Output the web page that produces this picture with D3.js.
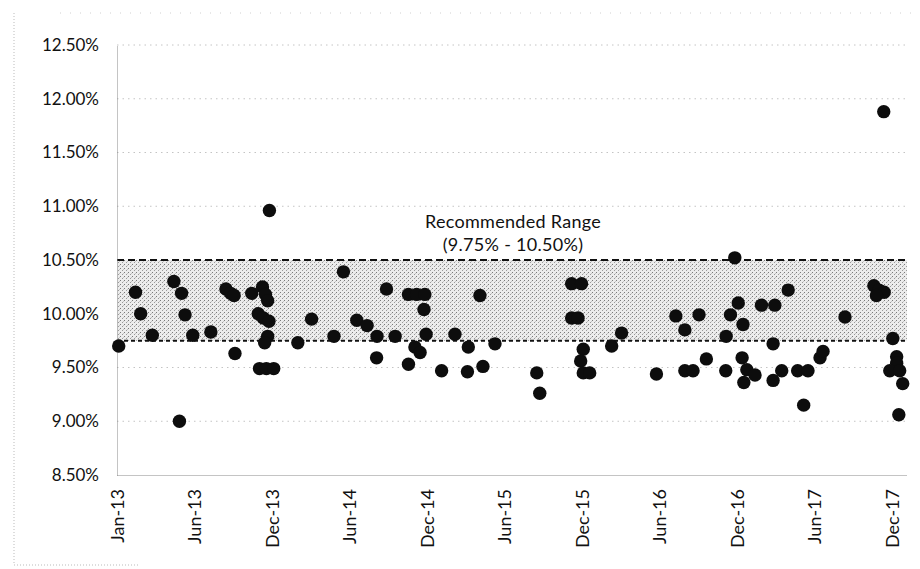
<!DOCTYPE html>
<html><head><meta charset="utf-8">
<script src="https://cdn.jsdelivr.net/npm/d3@7"></script>
<style>body{margin:0;background:#fff}svg text{font-family:Lato,"Open Sans",sans-serif;fill:#111}</style>
</head><body><svg id="c" width="920" height="569"></svg>
<script>
const dates = ["2013-01-05","2013-02-13","2013-02-25","2013-03-24","2013-05-13","2013-05-26","2013-05-31","2013-06-08","2013-06-26","2013-08-07",
"2013-09-11","2013-09-22","2013-09-30","2013-10-02","2013-11-10","2013-11-25","2013-12-05","2013-12-12","2013-12-17","2013-12-07",
"2013-12-20","2013-12-17","2013-12-10","2013-11-28","2013-12-14","2013-12-31","2013-12-21","2014-02-25","2014-03-29","2014-05-20",
"2014-06-11","2014-07-12","2014-08-05","2014-08-27","2014-08-28","2014-09-19","2014-10-09","2014-11-09","2014-11-09","2014-11-28",
"2014-12-17","2014-12-15","2014-11-24","2014-12-06","2014-12-20","2015-01-25","2015-02-25","2015-03-28","2015-03-26","2015-04-24",
"2015-05-01","2015-05-29","2015-09-03","2015-09-10","2015-11-23","2015-12-16","2015-11-23","2015-12-08","2015-12-20","2015-12-14",
"2015-12-20","2016-01-04","2016-02-24","2016-03-18","2016-06-07","2016-07-22","2016-08-12","2016-08-12","2016-08-31","2016-09-14",
"2016-10-01","2016-11-15","2016-11-16","2016-11-26","2016-12-06","2016-12-14","2016-12-25","2016-12-23","2017-01-03","2017-01-22",
"2016-12-27","2017-02-06","2017-03-09","2017-03-05","2017-03-05","2017-03-25","2017-04-09","2017-05-01","2017-05-25","2017-05-15",
"2017-06-22","2017-06-29","2017-08-19","2017-10-25","2017-11-06","2017-11-18","2017-10-31","2017-11-17","2017-12-08","2017-12-17",
"2017-12-17","2017-12-01","2017-12-24","2017-12-31","2017-12-22"];
const rates = [9.70,10.20,10.00,9.80,10.30,9.00,10.19,9.99,9.80,9.83,
10.23,10.19,10.17,9.63,10.19,10.00,10.25,10.18,10.12,9.96,
9.93,9.79,9.73,9.49,9.49,9.49,10.96,9.73,9.95,9.79,
10.39,9.94,9.89,9.59,9.79,10.23,9.79,9.53,10.18,10.18,
10.18,10.04,9.69,9.64,9.81,9.47,9.81,9.69,9.46,10.17,
9.51,9.72,9.45,9.26,10.28,10.28,9.96,9.96,9.67,9.56,
9.45,9.45,9.70,9.82,9.44,9.98,9.85,9.47,9.47,9.99,
9.58,9.47,9.79,9.99,10.52,10.10,9.90,9.59,9.48,9.43,
9.36,10.08,10.08,9.72,9.38,9.47,10.22,9.47,9.47,9.15,
9.59,9.65,9.97,10.26,10.22,10.20,10.17,11.88,9.77,9.60,
9.54,9.47,9.47,9.35,9.06];
const yTicks = [8.5,9.0,9.5,10.0,10.5,11.0,11.5,12.0,12.5];
const tickLabels = ["Jan-13","Jun-13","Dec-13","Jun-14","Dec-14","Jun-15","Dec-15","Jun-16","Dec-16","Jun-17","Dec-17"];
const tickDates = ["2013-01-01","2013-06-30","2013-12-27","2014-06-25","2014-12-22","2015-06-20","2015-12-17","2016-06-14","2016-12-11","2017-06-09","2017-12-06"];
const xDomain = ["2013-01-01","2018-01-10"];
const rangeLow = 9.75, rangeHigh = 10.50;
const annotation = ["Recommended Range","(9.75% - 10.50%)"];

const parse = d3.utcParse("%Y-%m-%d");
const svg = d3.select("#c");
const L = 117, R = 907, T = 45, B = 475;
const x = d3.scaleUtc().domain(xDomain.map(parse)).range([L, R]);
const y = d3.scaleLinear().domain([8.5, 12.5]).range([B, T]);

// stipple pattern
const defs = svg.append("defs");
const pat = defs.append("pattern").attr("id","stip").attr("width",4).attr("height",4).attr("patternUnits","userSpaceOnUse");
pat.append("rect").attr("width",4).attr("height",4).attr("fill","#ececec");
pat.append("rect").attr("x",0).attr("y",0).attr("width",1).attr("height",1).attr("fill","#7a7a7a");
pat.append("rect").attr("x",2).attr("y",2).attr("width",1).attr("height",1).attr("fill","#9a9a9a");
pat.append("rect").attr("x",3).attr("y",1).attr("width",1).attr("height",1).attr("fill","#c4c4c4");

// outer faint border
svg.append("path").attr("d",`M14,13V565H140`).attr("fill","none").attr("stroke","#bbb").attr("stroke-dasharray","1 2");
svg.append("path").attr("d",`M60,13H920`).attr("fill","none").attr("stroke","#d0d0d0").attr("stroke-dasharray","1 9");

// gridlines
svg.append("g").selectAll("line").data(yTicks.filter(t=>t>8.5)).join("line")
  .attr("x1",L).attr("x2",R).attr("y1",d=>y(d)).attr("y2",d=>y(d))
  .attr("stroke","#c4c4c4").attr("stroke-dasharray","1.5 4");

// band
svg.append("rect").attr("x",L).attr("width",R-L).attr("y",y(rangeHigh)).attr("height",y(rangeLow)-y(rangeHigh)).attr("fill","url(#stip)");
svg.append("line").attr("x1",L).attr("x2",R).attr("y1",y(rangeHigh)).attr("y2",y(rangeHigh))
  .attr("stroke","#111").attr("stroke-width",2).attr("stroke-dasharray","7 4");
svg.append("line").attr("x1",L).attr("x2",R).attr("y1",y(rangeLow)).attr("y2",y(rangeLow))
  .attr("stroke","#111").attr("stroke-width",2).attr("stroke-dasharray","4 3");

// axes
const yAxis = d3.axisLeft(y).tickValues(yTicks).tickSize(0).tickPadding(18).tickFormat(d=>d3.format(".2f")(d)+"%");
const gy = svg.append("g").attr("transform",`translate(${L},0)`).call(yAxis);
gy.select(".domain").attr("stroke","#888").attr("stroke-dasharray","1 1");
gy.selectAll("text").attr("font-size",17).style("font-family","Lato");

const xAxis = d3.axisBottom(x).tickValues(tickDates.map(parse)).tickSize(0).tickFormat((d,i)=>tickLabels[i]);
const gx = svg.append("g").attr("transform",`translate(0,${B})`).call(xAxis);
gx.select(".domain").attr("stroke","#888").attr("stroke-dasharray","1 1");
gx.selectAll("text").attr("font-size",18).attr("text-anchor","end")
  .attr("transform","rotate(-90)").attr("x",-14).attr("y",0).attr("dy","0.35em");

// dots
svg.append("g").selectAll("circle").data(dates.map((d,i)=>({d:parse(d),v:rates[i]}))).join("circle")
  .attr("cx",p=>x(p.d)).attr("cy",p=>y(p.v)).attr("r",6.7).attr("fill","#0d0d0d");

// annotation
const ax = x(parse("2015-07-10"));
svg.append("text").attr("x",ax).attr("y",y(10.5)-32).attr("text-anchor","middle").attr("font-size",18).attr("letter-spacing","0.3").text(annotation[0]);
svg.append("text").attr("x",ax).attr("y",y(10.5)-9).attr("text-anchor","middle").attr("font-size",18).attr("letter-spacing","0.3").text(annotation[1]);
</script></body></html>
